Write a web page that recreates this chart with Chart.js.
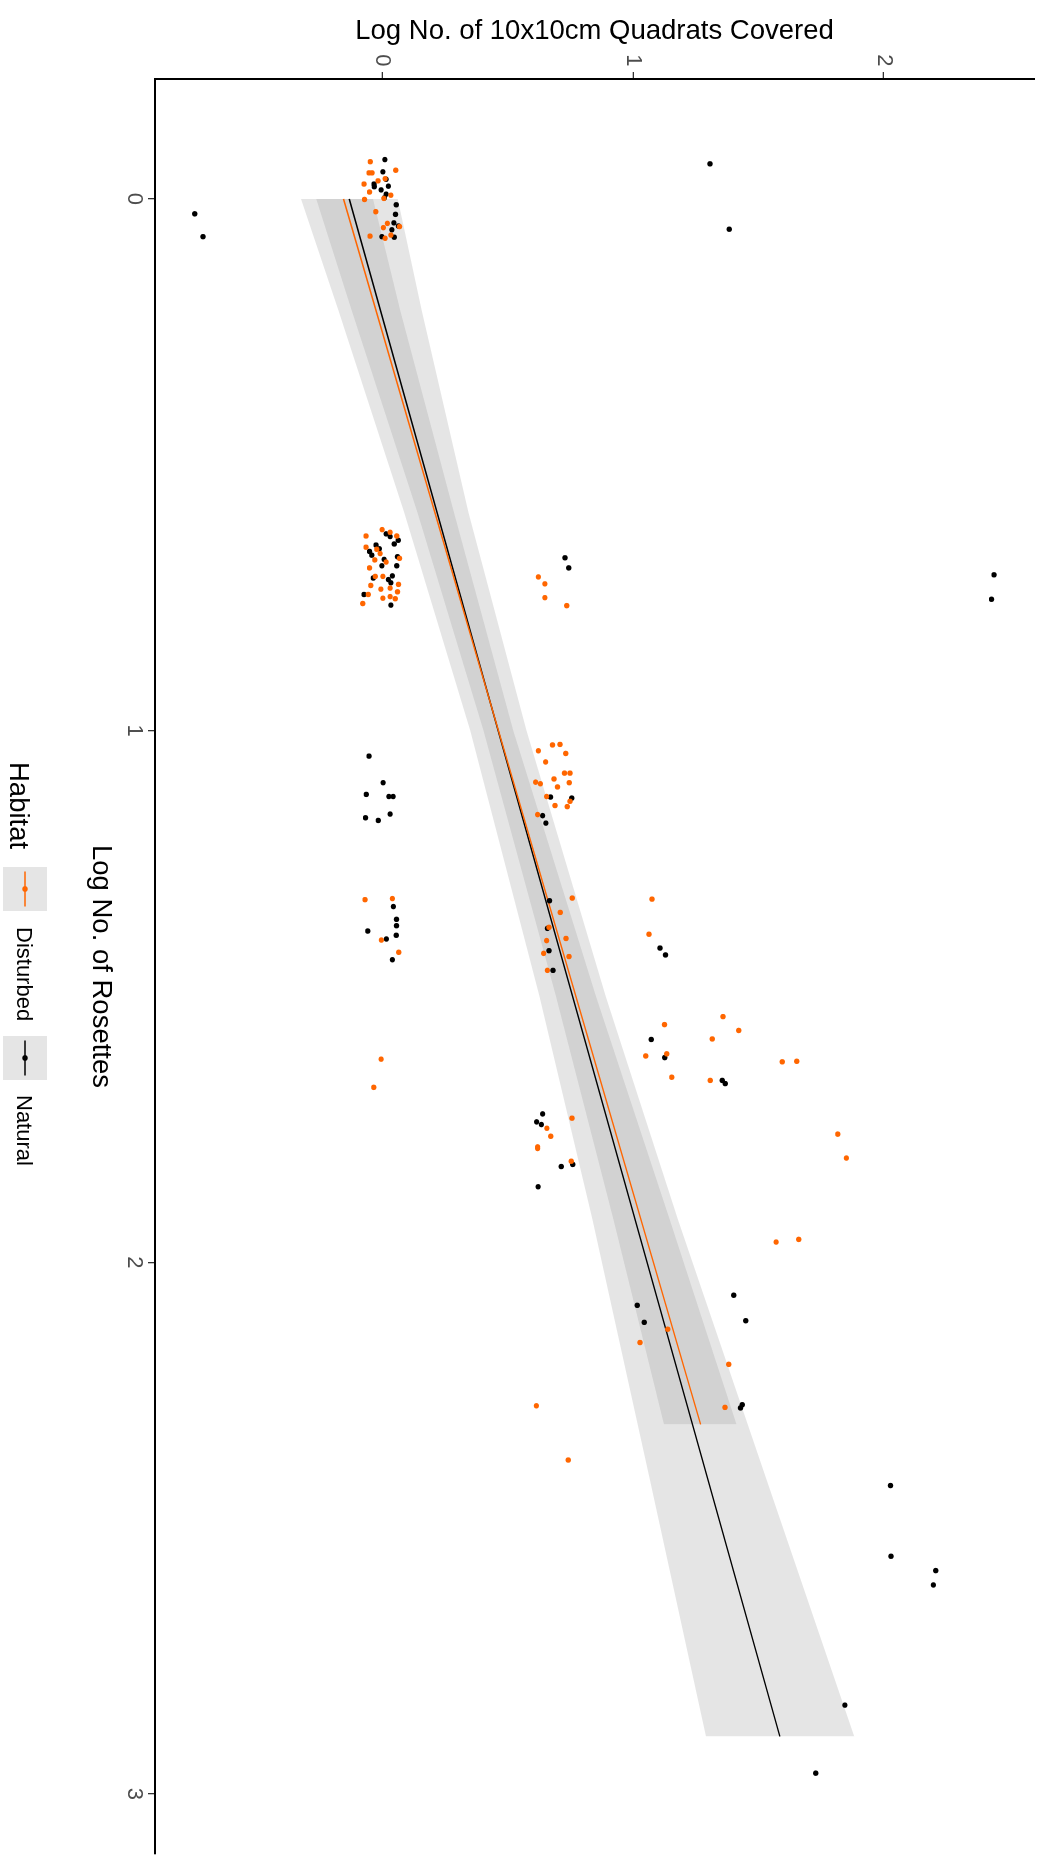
<!DOCTYPE html>
<html>
<head>
<meta charset="utf-8">
<script src="https://cdn.jsdelivr.net/npm/chart.js@4.4.1/dist/chart.umd.min.js"></script>
<style>
  html, body { margin: 0; padding: 0; background: #fff; overflow: hidden; }
  /* the ggplot figure was saved turned a quarter clockwise, so draw it upright and turn the box */
  #wrap { position: absolute; left: 0; top: 0; width: 1865px; height: 1040px;
          transform-origin: 0 0; transform: translate(1040px, 0) rotate(90deg); }
</style>
</head>
<body>
<div id="wrap"><canvas id="plot" width="1865" height="1040"></canvas></div>
<script>
const xTicks = [0, 1, 2, 3];
const yTicks = [0, 1, 2];
const xRange = [-0.2256, 3.113];
const yRange = [-0.9056, 2.599];

const habitats = ['Disturbed', 'Natural'];
const colours = ['#ff6600', '#000000'];

// jittered points, [log rosettes, log quadrats]
const disturbedPts = [
  [-0.070,-0.047],[-0.054,0.054],[-0.049,-0.052],[-0.049,-0.040],[-0.034,-0.016],[-0.038,0.012],
  [-0.028,-0.072],[-0.013,-0.050],[-0.007,0.035],[-0.001,0.007],[0.001,-0.070],[0.024,-0.025],
  [0.046,0.021],[0.054,0.005],[0.052,0.069],[0.070,-0.048],[0.074,0.012],[0.068,0.035],
  [0.634,-0.064],[0.622,0.000],[0.627,0.032],[0.634,0.058],[0.655,-0.064],[0.659,-0.021],
  [0.667,-0.008],[0.679,-0.029],[0.683,0.016],[0.676,0.069],[0.694,-0.050],[0.710,-0.027],
  [0.710,0.003],[0.725,0.065],[0.727,-0.045],[0.734,-0.005],[0.732,0.032],[0.739,0.061],
  [0.744,-0.055],[0.751,0.003],[0.748,0.032],[0.752,0.052],[0.761,-0.077],
  [0.711,0.623],[0.724,0.649],[0.750,0.649],[0.765,0.736],
  [1.038,0.623],[1.027,0.679],[1.026,0.709],[1.043,0.732],[1.059,0.652],[1.080,0.727],
  [1.080,0.749],[1.091,0.685],[1.098,0.746],[1.097,0.612],[1.100,0.631],[1.106,0.699],
  [1.124,0.656],[1.133,0.749],[1.141,0.689],[1.143,0.738],[1.158,0.620],
  [1.318,-0.068],[1.316,0.041],[1.394,-0.003],[1.417,0.066],
  [1.315,0.758],[1.342,0.710],[1.370,0.665],[1.391,0.733],[1.395,0.656],[1.419,0.644],
  [1.425,0.745],[1.451,0.659],[1.317,1.076],[1.383,1.064],
  [1.618,-0.004],[1.671,-0.033],[1.553,1.126],[1.612,1.051],[1.608,1.135],[1.652,1.155],
  [1.538,1.359],[1.564,1.422],[1.580,1.316],[1.658,1.308],[1.623,1.595],[1.622,1.653],
  [1.748,0.657],[1.729,0.757],[1.763,0.672],[1.783,0.620],[1.786,0.620],[1.810,0.754],
  [1.759,1.817],[1.804,1.851],
  [1.962,1.571],[1.957,1.661],[2.126,1.139],[2.151,1.028],[2.192,1.382],[2.273,1.367],
  [2.270,0.615],[2.372,0.742]
];
const naturalPts = [
  [0.028,-0.747],[0.071,-0.714],[-0.074,0.011],[-0.051,0.003],[-0.037,0.016],[-0.028,-0.032],
  [-0.023,-0.031],[-0.024,0.025],[-0.017,-0.004],[-0.009,0.016],[-0.002,0.009],[0.011,0.056],
  [0.029,0.053],[0.045,0.047],[0.051,0.065],[0.058,0.039],[0.071,-0.001],[0.072,0.048],
  [-0.066,1.307],[0.057,1.384],
  [0.630,0.016],[0.635,0.032],[0.642,0.064],[0.649,0.048],[0.651,-0.024],[0.663,-0.050],
  [0.670,-0.041],[0.658,-0.011],[0.673,0.061],[0.678,0.008],[0.690,0.058],[0.690,-0.001],
  [0.709,0.041],[0.713,-0.035],[0.716,0.025],[0.722,0.035],[0.744,-0.072],[0.764,0.035],
  [0.675,0.729],[0.694,0.744],[0.707,2.440],[0.753,2.430],
  [1.048,-0.052],[1.098,0.004],[1.120,-0.063],[1.124,0.027],[1.124,0.044],[1.164,-0.066],
  [1.169,-0.015],[1.157,0.032],[1.125,0.671],[1.127,0.756],[1.160,0.640],[1.174,0.653],
  [1.331,0.045],[1.355,0.057],[1.367,0.057],[1.377,-0.057],[1.385,0.056],[1.392,0.017],
  [1.431,0.041],[1.320,0.667],[1.372,0.659],[1.414,0.665],[1.451,0.681],[1.409,1.108],[1.422,1.130],
  [1.581,1.073],[1.615,1.127],[1.658,1.356],[1.664,1.368],
  [1.721,0.640],[1.736,0.616],[1.741,0.635],[1.816,0.760],[1.820,0.714],[1.858,0.622],
  [2.062,1.402],[2.110,1.450],[2.081,1.017],[2.113,1.045],[2.268,1.436],[2.274,1.429],
  [2.420,2.027],[2.553,2.029],[2.580,2.207],[2.607,2.198],[2.833,1.845],[2.961,1.729]
];

// lm fits and their confidence bands
const disturbedFit = [[0, -0.154], [2.305, 1.270]];
const naturalFit = [[0, -0.131], [2.892, 1.586]];
const disturbedBandX = [0, 0.21, 0.59, 1.0, 1.5, 1.92, 2.305];
const disturbedLow = [-0.263, -0.121, 0.141, 0.404, 0.693, 0.922, 1.124];
const disturbedHigh = [-0.036, 0.072, 0.287, 0.523, 0.853, 1.147, 1.413];
const naturalBandX = [0, 0.21, 0.59, 1.0, 1.5, 1.92, 2.41, 2.892];
const naturalLow = [-0.323, -0.174, 0.088, 0.351, 0.627, 0.839, 1.068, 1.291];
const naturalHigh = [0.062, 0.158, 0.344, 0.576, 0.892, 1.180, 1.533, 1.882];

const FONT = "'Liberation Sans', Arial, Helvetica, sans-serif";
const bandFill = 'rgba(153,153,153,0.26)';

const pts = arr => arr.map(p => ({x: p[0], y: p[1]}));
const band = (xs, ys) => xs.map((x, i) => ({x: x, y: ys[i]}));

function edge(xs, ys, fill, order) {
  return {
    type: 'line', data: band(xs, ys), borderWidth: 0, pointRadius: 0,
    fill: fill, backgroundColor: bandFill, order: order
  };
}

// chart.js reserves half a label of room at the axis ends; ggplot doesn't
function noEndPadding(s) {
  s.paddingTop = 0; s.paddingBottom = 0; s.paddingLeft = 0; s.paddingRight = 0;
}

// legend drawn like the ggplot key: grey box, line with a dot, label
const legendPlugin = {
  id: 'ggLegend',
  afterDraw(chart) {
    const ctx = chart.ctx;
    ctx.save();
    ctx.fillStyle = '#000';
    ctx.font = '27.5px ' + FONT;
    ctx.textBaseline = 'alphabetic';
    ctx.fillText('Habitat', 762, 1030);
    const boxes = [867, 1036];
    const labelsAt = [927, 1095];
    habitats.forEach((h, i) => {
      const bx = boxes[i];
      ctx.fillStyle = bandFill;
      ctx.fillRect(bx, 993, 44, 44);
      ctx.strokeStyle = colours[i];
      ctx.lineWidth = 1.5;
      ctx.beginPath();
      ctx.moveTo(bx + 4.5, 1015);
      ctx.lineTo(bx + 39.5, 1015);
      ctx.stroke();
      ctx.fillStyle = colours[i];
      ctx.beginPath();
      ctx.arc(bx + 22, 1015, 2.8, 0, Math.PI * 2);
      ctx.fill();
      ctx.fillStyle = '#000';
      ctx.font = '22px ' + FONT;
      ctx.fillText(h, labelsAt[i], 1023);
    });
    ctx.restore();
  }
};

const canvas = document.getElementById('plot').getContext('2d');

new Chart(canvas, {
  type: 'scatter',
  data: {
    datasets: [
      {label: habitats[0], data: pts(disturbedPts), backgroundColor: colours[0], pointRadius: 2.7, borderWidth: 0, order: 0},
      {label: habitats[1], data: pts(naturalPts), backgroundColor: colours[1], pointRadius: 2.7, borderWidth: 0, order: 0},
      {type: 'line', data: pts(disturbedFit), borderColor: colours[0], borderWidth: 1.4, pointRadius: 0, fill: false, order: 1},
      {type: 'line', data: pts(naturalFit), borderColor: colours[1], borderWidth: 1.4, pointRadius: 0, fill: false, order: 1},
      edge(naturalBandX, naturalLow, false, 3),
      edge(naturalBandX, naturalHigh, '-1', 3),
      edge(disturbedBandX, disturbedLow, false, 2),
      edge(disturbedBandX, disturbedHigh, '-1', 2)
    ]
  },
  options: {
    responsive: false,
    animation: false,
    devicePixelRatio: 1,
    layout: { padding: { left: 0, right: 11, top: 6, bottom: 0 } },
    plugins: { legend: { display: false }, tooltip: { enabled: false } },
    scales: {
      x: {
        type: 'linear', position: 'bottom', min: xRange[0], max: xRange[1],
        afterBuildTicks: s => { s.ticks = xTicks.map(v => ({value: v})); },
        afterFit: s => { s.height = 155; noEndPadding(s); },
        ticks: { color: '#4d4d4d', font: { family: FONT, size: 22 }, padding: 1, maxRotation: 0, autoSkip: false },
        grid: { drawOnChartArea: false, drawTicks: true, tickLength: 7, color: '#333333', lineWidth: 1.3 },
        border: { display: true, color: '#000', width: 2 },
        title: { display: true, text: 'Log No. of Rosettes', color: '#000',
                 font: { family: FONT, size: 27.5 }, padding: { top: 0, bottom: 84 } }
      },
      y: {
        type: 'linear', position: 'left', min: yRange[0], max: yRange[1],
        afterBuildTicks: s => { s.ticks = yTicks.map(v => ({value: v})); },
        afterFit: s => { s.width = 79; noEndPadding(s); },
        ticks: { color: '#4d4d4d', font: { family: FONT, size: 22 }, padding: 5.5, autoSkip: false },
        grid: { drawOnChartArea: false, drawTicks: true, tickLength: 7, color: '#333333', lineWidth: 1.3 },
        border: { display: true, color: '#000', width: 2 },
        title: { display: true, text: 'Log No. of 10x10cm Quadrats Covered', color: '#000',
                 font: { family: FONT, size: 27.5 }, padding: { top: 15, bottom: 0 } }
      }
    }
  },
  plugins: [legendPlugin]
});
</script>
</body>
</html>
